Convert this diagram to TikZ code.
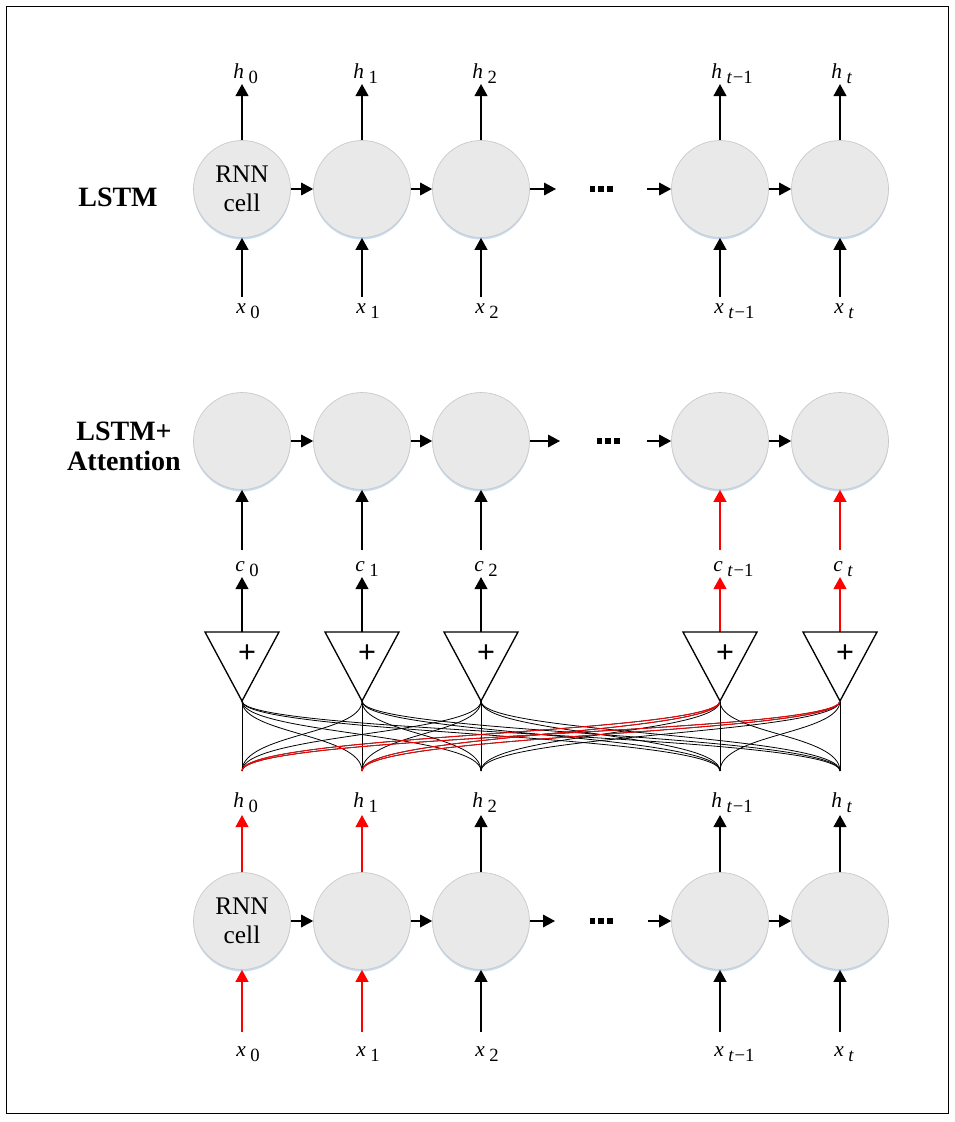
\documentclass[tikz,border=0pt]{standalone}
\usepackage{fontspec}
\setmainfont{Liberation Serif}
\newfontfamily\plusfont{Liberation Sans}
\usetikzlibrary{arrows.meta,calc,shadows}
\definecolor{cellfill}{RGB}{233,233,233}
\definecolor{celldraw}{RGB}{200,200,200}
\definecolor{glow}{RGB}{185,210,238}
\definecolor{attnred}{RGB}{255,0,0}
\newcommand{\sublbl}[2]{\textit{#1}\kern3.5pt\raisebox{-4pt}{\fontsize{14}{14}\selectfont #2}}
\newcommand{\tmo}{\textit{t}\kern0.5pt−1}
\begin{document}
\begin{tikzpicture}[x=0.75pt,y=-0.75pt,
  cell/.style={circle, minimum size=72.75pt, inner sep=0pt, fill=cellfill, draw=celldraw, line width=0.5pt,
    drop shadow={shadow xshift=0pt, shadow yshift=-1.5pt, fill=glow, opacity=0.8},
    font=\fontsize{19}{21.75}\selectfont, align=center},
  vin/.style={line width=1.5pt, -{Triangle[width=9.5pt,length=9pt]}},
  hin/.style={line width=0.9pt, -{Triangle[width=9.5pt,length=9pt]}},
  lab/.style={font=\fontsize{16}{16}\selectfont, anchor=base west, inner sep=0pt},
  tri/.style={line width=1pt, line join=miter},
  plus/.style={font=\plusfont\fontsize{23}{23}\selectfont, inner sep=0pt},
  mesh/.style={line width=0.6pt},
  title/.style={font=\bfseries\fontsize{21}{22.5}\selectfont, align=center},
  hot/.style={draw=attnred}]
\useasboundingbox (0,0) rectangle (955,1122);
\draw[line width=1pt] (6.5,6.5) rectangle (948.5,1113.5);

% titles
\node[title] (t1) at (118,197) {LSTM};
\node[title] (t2) at (124,446) {LSTM+\\Attention};

% ---------- Row 1: LSTM ----------
\node[cell] (p0) at (242,189) {RNN\\cell};
\foreach \i/\x in {1/362,2/481,3/720,4/840} \node[cell] (p\i) at (\x,189) {};
\foreach \i/\x/\s in {0/242/0,1/362/1,2/481/2,3/720/\tmo,4/840/\textit{t}} {
  \coordinate (hp\i) at (\x,84);
  \coordinate (xp\i) at (\x,297);
  \draw[vin] (p\i) -- (hp\i);
  \draw[vin] (xp\i) -- (p\i);
  \node[lab] (hl\i) at (\x-9,78) {\sublbl{h}{\s}};
  \node[lab] (xl\i) at (\x-6,313) {\sublbl{x}{\s}};
}
\coordinate (pa) at (556,189);
\coordinate (pb) at (647,189);
\draw[hin] (p0) -- (p1);
\draw[hin] (p1) -- (p2);
\draw[hin] (p2) -- (pa);
\draw[hin] (pb) -- (p3);
\draw[hin] (p3) -- (p4);
\coordinate (pd) at (601,189);
\foreach \dx in {-8.7,0,8.7} \fill ($(pd)+(\dx,0)$) +(-2.8,-2.6) rectangle +(2.8,2.6);

% ---------- Row 2: LSTM + Attention ----------
\foreach \i/\x in {0/242,1/362,2/481,3/720,4/840} \node[cell] (q\i) at (\x,441) {};
\coordinate (qa) at (560,441);
\coordinate (qb) at (647,441);
\draw[hin] (q0) -- (q1);
\draw[hin] (q1) -- (q2);
\draw[hin] (q2) -- (qa);
\draw[hin] (qb) -- (q3);
\draw[hin] (q3) -- (q4);
\coordinate (qd) at (608,441);
\foreach \dx in {-8.7,0,8.7} \fill ($(qd)+(\dx,0)$) +(-2.8,-2.6) rectangle +(2.8,2.6);

\foreach \i/\x/\s/\c in {0/242/0/black,1/362/1/black,2/481/2/black,3/720/\tmo/attnred,4/840/\textit{t}/attnred} {
  \coordinate (cq\i) at (\x,550);
  \coordinate (cp\i) at (\x,577);
  \coordinate (tt\i) at (\x,632);
  \coordinate (ta\i) at (\x,701);
  \coordinate (bb\i) at (\x,771);
  \draw[vin,draw=\c,fill=\c] (cq\i) -- (q\i);
  \draw[vin,draw=\c,fill=\c] (tt\i) -- (cp\i);
  \node[lab] (cl\i) at (\x-7,571) {\sublbl{c}{\s}};
  \draw[tri] ($(tt\i)+(-37,0)$) -- ($(tt\i)+(37,0)$) -- (ta\i) -- cycle;
  \node[plus] (pl\i) at (\x+5,654) {+};
}

% attention mesh
\foreach \j in {0,...,4} \draw[mesh] (ta\j) -- (bb\j);
\foreach \j in {0,...,4} {
  \foreach \i in {0,...,4} {
    \ifnum\i=\j\relax\else
      \draw[mesh] (ta\j) .. controls ($(ta\j)+(0,33)$) and ($(bb\i)+(0,-37)$) .. (bb\i);
    \fi
  }
}
\foreach \j in {3,4} {
  \foreach \i in {0,1} {
    \draw[mesh,hot] (ta\j) .. controls ($(ta\j)+(0,33)$) and ($(bb\i)+(0,-37)$) .. (bb\i);
  }
}

% ---------- Row 3: encoder ----------
\node[cell] (r0) at (242,921) {RNN\\cell};
\foreach \i/\x in {1/362,2/481,3/720,4/840} \node[cell] (r\i) at (\x,921) {};
\foreach \i/\x/\s/\c in {0/242/0/attnred,1/362/1/attnred,2/481/2/black,3/720/\tmo/black,4/840/\textit{t}/black} {
  \coordinate (hr\i) at (\x,815);
  \coordinate (xr\i) at (\x,1032);
  \draw[vin,draw=\c,fill=\c] (r\i) -- (hr\i);
  \draw[vin,draw=\c,fill=\c] (xr\i) -- (r\i);
  \node[lab] (hrl\i) at (\x-9,807) {\sublbl{h}{\s}};
  \node[lab] (xrl\i) at (\x-6,1056) {\sublbl{x}{\s}};
}
\coordinate (ra) at (555,921);
\coordinate (rb) at (648,921);
\draw[hin] (r0) -- (r1);
\draw[hin] (r1) -- (r2);
\draw[hin] (r2) -- (ra);
\draw[hin] (rb) -- (r3);
\draw[hin] (r3) -- (r4);
\coordinate (rd) at (601,921);
\foreach \dx in {-8.7,0,8.7} \fill ($(rd)+(\dx,0)$) +(-2.8,-2.6) rectangle +(2.8,2.6);
\end{tikzpicture}
\end{document}
